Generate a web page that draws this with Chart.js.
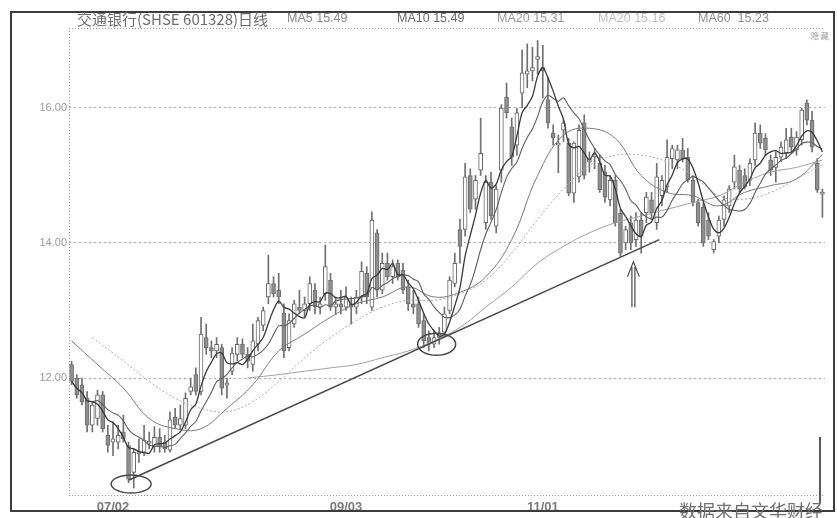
<!DOCTYPE html>
<html>
<head>
<meta charset="utf-8">
<script src="https://cdn.jsdelivr.net/npm/chart.js@4.4.1/dist/chart.umd.min.js"></script>
<style>
    html, body { margin: 0; padding: 0; background: #fff; }
    #wrap { position: relative; width: 837px; height: 518px; }
</style>
</head>
<body>
<div id="wrap"><canvas id="kline" width="837" height="518"></canvas></div>
<script>
// tick labels
const xTickIdx = [8, 53, 91];
const xTickLabels = ['07/02', '09/03', '11/01'];
const yTicks = [12, 14, 16];
const yTickLabels = ['12.00', '14.00', '16.00'];
const titleText = '交通银行(SHSE 601328)日线';
const maLabels = ['MA5 15.49', 'MA10 15.49', 'MA20 15.31', 'MA20 15.16', 'MA60  15.23'];
const sourceText = '数据来自文华财经';

// daily candles
const opens = [
    12.2, 12.0, 11.9, 11.7, 11.3, 11.4, 11.75, 11.15, 11.05, 11.05,
    11.2, 11.0, 10.6, 10.88, 10.9, 11.05, 10.98, 11.12, 11.05, 10.93,
    11.42, 11.3, 11.3, 11.8, 12.05, 11.8, 12.6, 12.45, 12.4, 12.45,
    11.9, 12.1, 12.35, 12.5, 12.35, 12.2, 12.5, 12.78, 13.2, 13.4,
    13.3, 12.96, 12.45, 12.8, 13.05, 13.0, 13.1, 13.3, 13.05, 13.25,
    13.45, 13.05, 13.1, 13.05, 13.1, 13.05, 13.2, 13.55, 13.05, 14.15,
    13.3, 13.7, 13.5, 13.7, 13.6, 13.35, 13.1, 13.1, 12.85, 12.6,
    12.5, 12.6, 12.68, 13.0, 13.4, 14.2, 14.2, 15.0, 14.65, 15.08,
    14.3, 14.9, 14.25, 15.08, 16.16, 15.72, 15.45, 16.22, 16.5, 16.55,
    16.72, 16.6, 16.12, 15.63, 15.45, 15.67, 15.48, 14.74, 14.98, 15.78,
    15.2, 15.28, 15.18, 15.05, 14.64, 14.93, 14.44, 14.0, 14.3, 14.05,
    14.34, 14.45, 14.64, 14.3, 14.7, 14.83, 15.25, 15.23, 15.38, 15.27,
    14.93, 14.6, 14.53, 14.34, 13.9, 14.1, 14.35, 14.55, 14.9, 15.08,
    15.0, 14.93, 15.23, 15.63, 15.55, 15.23, 15.12, 15.27, 15.33, 15.57,
    15.38, 15.53, 16.07, 15.82, 15.18, 14.74
];
const highs = [
    12.25, 12.05, 12.0, 11.8, 11.65, 11.82, 11.8, 11.3, 11.35, 11.3,
    11.45, 11.05, 10.95, 11.1, 11.3, 11.2, 11.28, 11.25, 11.15, 11.5,
    11.55, 11.6, 11.78, 12.0, 12.15, 12.9, 12.8, 12.55, 12.6, 12.5,
    12.0, 12.45, 12.6, 12.58, 12.45, 12.8, 12.9, 13.05, 13.82, 13.5,
    13.55, 13.1, 12.95, 13.15, 13.3, 13.2, 13.5, 13.4, 13.2, 13.97,
    13.55, 13.2, 13.3, 13.35, 13.2, 13.3, 13.72, 13.65, 14.46, 14.2,
    13.85, 13.85, 13.75, 13.75, 13.7, 13.45, 13.3, 13.2, 12.95, 12.7,
    12.7, 12.75, 13.05, 13.5, 13.85, 14.35, 15.18, 15.1, 15.0, 15.85,
    15.0, 15.05, 14.85, 16.05, 16.37, 15.85, 16.0, 16.86, 16.95, 16.9,
    17.0, 16.93, 16.45, 15.75, 15.6, 15.82, 15.55, 15.5, 15.75, 15.9,
    15.35, 15.4, 15.3, 15.15, 15.0, 15.0, 14.5, 14.25, 14.4, 14.45,
    14.45, 14.75, 14.75, 15.18, 15.0, 15.53, 15.45, 15.45, 15.55, 15.4,
    15.0, 14.65, 14.6, 14.45, 14.05, 14.4, 14.7, 14.85, 15.3, 15.15,
    15.1, 15.25, 15.78, 15.75, 15.62, 15.3, 15.35, 15.5, 15.7, 15.7,
    15.65, 16.0, 16.12, 15.95, 15.25, 14.8
];
const lows = [
    11.9, 11.7, 11.6, 11.2, 11.2, 11.3, 11.2, 10.9, 10.85, 10.95,
    11.05, 10.45, 10.37, 10.75, 10.85, 10.95, 10.9, 10.9, 10.9, 10.9,
    11.25, 11.25, 11.25, 11.75, 11.75, 11.75, 12.35, 12.3, 12.3, 11.75,
    11.7, 12.05, 12.25, 12.3, 12.15, 12.1, 12.4, 12.7, 13.1, 13.2,
    13.1, 12.3, 12.4, 12.75, 12.95, 12.9, 13.0, 12.95, 12.95, 13.15,
    13.0, 12.95, 12.95, 13.0, 12.8, 12.95, 13.1, 13.1, 13.0, 13.2,
    13.25, 13.45, 13.4, 13.45, 13.25, 13.0, 12.95, 12.75, 12.45, 12.4,
    12.45, 12.5, 12.6, 12.95, 13.35, 13.7, 14.1, 14.45, 14.5, 15.0,
    14.2, 14.35, 14.15, 14.9, 15.85, 15.15, 15.3, 16.0, 16.3, 16.4,
    16.5, 16.15, 15.7, 15.45, 15.04, 15.5, 14.7, 14.6, 14.9, 14.95,
    15.05, 15.1, 14.75, 14.6, 14.55, 14.25, 13.8, 13.9, 13.9, 13.95,
    13.85, 14.3, 14.35, 14.2, 14.55, 14.75, 15.1, 15.1, 15.2, 14.9,
    14.55, 14.25, 13.95, 14.05, 13.85, 14.0, 14.25, 14.45, 14.8, 14.75,
    14.8, 14.85, 15.15, 15.4, 15.3, 15.0, 14.9, 15.2, 15.25, 15.35,
    15.3, 15.45, 15.75, 15.35, 14.75, 14.38
];
const closes = [
    11.95, 11.75, 11.65, 11.3, 11.6, 11.75, 11.25, 11.0, 11.1, 11.15,
    11.1, 10.5, 10.9, 10.9, 11.08, 11.05, 11.12, 10.98, 10.95, 11.38,
    11.3, 11.4, 11.7, 11.87, 11.8, 12.65, 12.45, 12.4, 12.5, 11.85,
    11.92, 12.37, 12.5, 12.35, 12.25, 12.55, 12.85, 13.0, 13.4, 13.25,
    13.2, 12.4, 12.85, 13.1, 13.0, 13.1, 13.4, 13.05, 13.1, 13.65,
    13.05, 13.1, 13.05, 13.2, 13.05, 13.2, 13.58, 13.2, 14.34, 13.3,
    13.7, 13.5, 13.65, 13.5, 13.3, 13.1, 13.05, 12.8, 12.55, 12.5,
    12.6, 12.65, 12.95, 13.45, 13.7, 13.95, 14.98, 14.5, 14.93, 15.33,
    14.9, 14.4, 14.8, 16.0, 15.93, 15.27, 15.93, 16.52, 16.55, 16.6,
    16.76, 16.55, 15.78, 15.56, 15.48, 15.78, 14.74, 15.48, 15.67, 15.0,
    15.25, 15.3, 14.79, 14.68, 14.93, 14.3, 13.85, 14.2, 14.0, 14.34,
    14.1, 14.68, 14.45, 14.98, 14.93, 15.27, 15.4, 15.38, 15.25, 14.93,
    14.6, 14.3, 14.0, 14.1, 14.02, 14.34, 14.64, 14.8, 15.13, 14.8,
    14.83, 15.18, 15.63, 15.48, 15.38, 15.08, 15.27, 15.42, 15.53, 15.42,
    15.57, 15.97, 15.82, 15.42, 14.79, 14.74
];

// slow averages at every fifth bar
const ma20Idx = [0, 5, 10, 15, 20, 25, 30, 35, 40, 45, 50, 55, 60, 65, 70, 75, 80, 85, 90, 95, 100, 105, 110, 115, 120, 125, 130, 135, 140, 145];
const ma20Vals = [12.55, 12.2, 11.85, 11.4, 11.25, 11.25, 11.55, 11.9, 12.4, 12.65, 12.9, 13.1, 13.2, 13.35, 13.2, 13.27, 13.5, 14.05, 15.0, 15.6, 15.7, 15.55, 15.0, 14.75, 14.7, 14.55, 14.75, 14.85, 14.95, 15.31];
const ma30Idx = [4, 10, 15, 20, 25, 30, 35, 40, 45, 50, 55, 60, 65, 70, 75, 80, 85, 90, 95, 100, 105, 110, 115, 120, 125, 130, 135, 140, 145];
const ma30Vals = [12.6, 12.25, 11.95, 11.7, 11.55, 11.5, 11.65, 11.95, 12.3, 12.6, 12.85, 13.05, 13.15, 13.15, 13.25, 13.45, 13.85, 14.35, 14.8, 15.15, 15.3, 15.3, 15.2, 15.0, 14.7, 14.65, 14.75, 14.95, 15.16];
const ma60Idx = [34, 40, 45, 50, 55, 60, 65, 70, 75, 80, 85, 90, 95, 100, 105, 110, 115, 120, 125, 130, 135, 140, 145];
const ma60Vals = [12.0, 12.05, 12.1, 12.15, 12.2, 12.3, 12.4, 12.55, 12.75, 13.05, 13.35, 13.7, 13.95, 14.15, 14.3, 14.4, 14.5, 14.6, 14.7, 14.9, 15.05, 15.12, 15.23];

// hand drawn marks on the page, in bar index / price
const trendLine = [[11.1, 10.49], [113.5, 14.05]];
const circledBars = [[11.5, 10.43], [70.5, 12.5]];
const arrowAt = [108.5, 13.05, 13.72];

function movingAvg(arr, n) {
    return arr.map((v, i) => {
        const part = arr.slice(Math.max(0, i - n + 1), i + 1);
        return part.reduce((a, b) => a + b, 0) / part.length;
    });
}

const ma5 = movingAvg(closes, 5);
const ma10 = movingAvg(closes, 10);

const wickData = highs.map((h, i) => ({ x: i, y: [lows[i], h] }));
const bodyData = opens.map((o, i) => {
    const c = closes[i];
    if (Math.abs(o - c) < 0.03) {
        const m = (o + c) / 2;
        return { x: i, y: [m - 0.015, m + 0.015] };
    }
    return { x: i, y: [o, c] };
});
const bodyFill = opens.map((o, i) => closes[i] >= o ? '#ffffff' : '#8e8e8e');
const bodyEdge = opens.map((o, i) => closes[i] >= o ? '#666666' : '#6e6e6e');

function pts(idx, vals) {
    return idx.map((x, k) => ({ x, y: vals[k] }));
}

const decor = {
    id: 'decor',
    beforeDraw(chart) {
        const c = chart.ctx;
        c.save();
        c.fillStyle = '#fff';
        c.fillRect(0, 0, chart.width, chart.height);
        c.restore();
    },
    afterDatasetsDraw(chart) {
        const { ctx: c, scales: { x, y } } = chart;
        c.save();
        c.strokeStyle = '#4a4a4a';
        c.lineWidth = 1.6;
        c.beginPath();
        c.moveTo(x.getPixelForValue(trendLine[0][0]), y.getPixelForValue(trendLine[0][1]));
        c.lineTo(x.getPixelForValue(trendLine[1][0]), y.getPixelForValue(trendLine[1][1]));
        c.stroke();

        c.lineWidth = 1.5;
        circledBars.forEach(([i, p], k) => {
            c.beginPath();
            c.ellipse(x.getPixelForValue(i), y.getPixelForValue(p), k ? 19 : 20, k ? 11 : 9, 0, 0, Math.PI * 2);
            c.stroke();
        });

        const ax = x.getPixelForValue(arrowAt[0]);
        const ay0 = y.getPixelForValue(arrowAt[1]);
        const ay1 = y.getPixelForValue(arrowAt[2]);
        c.lineWidth = 1.2;
        c.beginPath();
        c.moveTo(ax - 1.5, ay0); c.lineTo(ax - 1.5, ay1 + 5);
        c.moveTo(ax + 1.5, ay0); c.lineTo(ax + 1.5, ay1 + 5);
        c.moveTo(ax - 6, ay1 + 15); c.lineTo(ax, ay1); c.lineTo(ax + 6, ay1 + 15);
        c.stroke();
        c.restore();
    },
    afterDraw(chart) {
        const c = chart.ctx;
        const a = chart.chartArea;
        c.save();
        // dotted plot border
        c.strokeStyle = '#9a9a9a';
        c.lineWidth = 1;
        c.setLineDash([1, 2]);
        c.beginPath();
        c.moveTo(a.left + 0.5, a.top); c.lineTo(a.left + 0.5, a.bottom);
        c.moveTo(a.left, a.top + 0.5); c.lineTo(a.right, a.top + 0.5);
        c.moveTo(a.left, a.bottom - 0.5); c.lineTo(a.right, a.bottom - 0.5);
        c.stroke();
        c.setLineDash([]);

        // outer frame
        c.strokeStyle = '#3c3c3c';
        c.lineWidth = 2;
        c.strokeRect(11, 12, 823, 499);
        c.strokeStyle = '#5a5a5a';
        c.beginPath();
        c.moveTo(820, 437); c.lineTo(820, 503);
        c.stroke();

        // header line
        c.textBaseline = 'middle';
        c.fillStyle = '#6e6e6e';
        c.font = '15px "Noto Sans CJK SC", sans-serif';
        c.fillText(titleText, 77, 19);
        const mx = [287, 397, 497, 598, 698];
        const mc = ['#888', '#6a6a6a', '#9a9a9a', '#bdbdbd', '#8e8e8e'];
        c.font = '12.5px "Liberation Sans", Arial, sans-serif';
        maLabels.forEach((t, k) => {
            c.fillStyle = mc[k];
            c.fillText(t, mx[k], 19);
        });
        c.font = '8px "Noto Sans CJK SC", sans-serif';
        c.fillStyle = '#999';
        c.fillText('隐 藏', 811, 36);

        // source stamp
        c.textBaseline = 'alphabetic';
        c.font = '18px "Noto Sans CJK SC", sans-serif';
        c.fillStyle = '#707070';
        c.fillText(sourceText, 679, 518);
        c.restore();
    }
};

new Chart(document.getElementById('kline'), {
    type: 'bar',
    data: {
        datasets: [
            {
                type: 'line', label: 'MA5', data: ma5.map((v, i) => ({ x: i, y: v })),
                borderColor: '#3a3a3a', borderWidth: 1.3, pointRadius: 0, tension: 0.3, order: 1
            },
            {
                type: 'line', label: 'MA10', data: ma10.map((v, i) => ({ x: i, y: v })),
                borderColor: '#5e5e5e', borderWidth: 1.1, pointRadius: 0, tension: 0.3, order: 1
            },
            {
                type: 'line', label: 'MA20', data: pts(ma20Idx, ma20Vals),
                borderColor: '#7c7c7c', borderWidth: 1, pointRadius: 0, tension: 0.4, order: 1
            },
            {
                type: 'line', label: 'MA30', data: pts(ma30Idx, ma30Vals),
                borderColor: '#ababab', borderWidth: 1, borderDash: [2, 2], pointRadius: 0, tension: 0.4, order: 1
            },
            {
                type: 'line', label: 'MA60', data: pts(ma60Idx, ma60Vals),
                borderColor: '#a2a2a2', borderWidth: 1, pointRadius: 0, tension: 0.4, order: 1
            },
            {
                label: 'body', data: bodyData, grouped: false, barThickness: 4,
                backgroundColor: bodyFill, borderColor: bodyEdge, borderWidth: 1,
                borderSkipped: false, order: 2
            },
            {
                label: 'wick', data: wickData, grouped: false, barThickness: 1,
                backgroundColor: '#707070', order: 3
            }
        ]
    },
    options: {
        responsive: false,
        animation: false,
        devicePixelRatio: 1,
        layout: { padding: { top: 28, right: 12, left: 0, bottom: 0 } },
        plugins: { legend: { display: false }, tooltip: { enabled: false } },
        scales: {
            x: {
                type: 'linear',
                min: -0.5,
                max: 145.5,
                offset: false,
                grid: { display: false, drawTicks: false },
                border: { display: false },
                afterBuildTicks: s => { s.ticks = xTickIdx.map(v => ({ value: v })); },
                afterFit: s => { s.height = 22; },
                ticks: {
                    autoSkip: false,
                    maxRotation: 0,
                    padding: 4,
                    color: '#7c7c7c',
                    font: { family: '"Liberation Sans", Arial, sans-serif', size: 13, weight: 'bold' },
                    callback: (v, i) => xTickLabels[i]
                }
            },
            y: {
                min: 10.252,
                max: 17.185,
                grid: { color: '#ababab', lineWidth: 1, drawTicks: false },
                border: { display: false, dash: [2, 3] },
                afterBuildTicks: s => { s.ticks = yTicks.map(v => ({ value: v })); },
                afterFit: s => { s.width = 69; },
                ticks: {
                    padding: 2,
                    color: '#9a9a9a',
                    font: { family: '"Liberation Sans", Arial, sans-serif', size: 11 },
                    callback: (v, i) => yTickLabels[i]
                }
            }
        }
    },
    plugins: [decor]
});
</script>
</body>
</html>
